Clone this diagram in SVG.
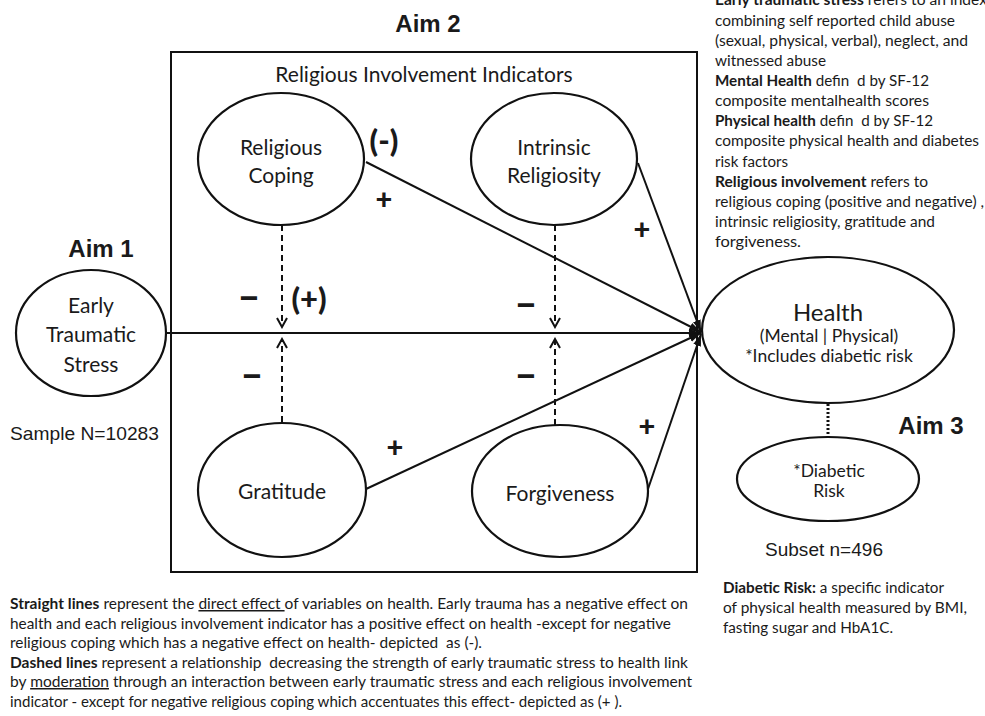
<svg xmlns="http://www.w3.org/2000/svg" width="985" height="716" viewBox="0 0 985 716">
<style>
text{white-space:pre;fill:#1a1a1a}
.c{font-family:Lato,"Open Sans",sans-serif}
.a{font-family:"Liberation Sans",Arial,sans-serif}
.aim{font-family:"Liberation Sans",Arial,sans-serif;font-weight:bold;font-size:24px;text-anchor:middle}
.node ellipse{fill:#fff;stroke:#111;stroke-width:2.2}
.lbl{font-family:Lato,"Open Sans",sans-serif;font-size:21px;text-anchor:middle}
.sm{font-size:17.5px}
.big{font-size:24px}
.sign{font-family:Lato,"Open Sans",sans-serif;font-weight:900;font-size:31px;text-anchor:middle}
.plus{font-size:29px}
.minus{font-size:36px}
.note{font-family:Lato,"Open Sans",sans-serif;font-size:14.5px}
.bn{font-family:Lato,"Open Sans",sans-serif;font-size:15px}
.solid{stroke:#111;stroke-width:2;fill:none}
.dash{stroke:#111;stroke-width:2;fill:none;stroke-dasharray:6 4}
</style>
<defs>
<marker id="arr" viewBox="0 0 12 10" refX="12" refY="5" markerWidth="12" markerHeight="10" markerUnits="userSpaceOnUse" orient="auto"><path d="M0,1 L12,5 L0,9 z" fill="#111"/></marker>
<marker id="chev" viewBox="0 0 12 12" refX="10" refY="6" markerWidth="12" markerHeight="12" markerUnits="userSpaceOnUse" orient="auto"><path d="M1,1 L10,6 L1,11" fill="none" stroke="#111" stroke-width="2"/></marker>
</defs>
<rect width="985" height="716" fill="#fff"/>

<g id="aims">
<text class="aim" x="428" y="32">Aim 2</text>
<text class="aim" x="101" y="257">Aim 1</text>
<text class="aim" x="931" y="434">Aim 3</text>
<text class="a" x="10" y="440" font-size="18.5" textLength="149" lengthAdjust="spacingAndGlyphs">Sample N=10283</text>
<text class="a" x="765" y="556" font-size="18.5" textLength="118" lengthAdjust="spacingAndGlyphs">Subset n=496</text>
</g>

<g id="box">
<rect x="171" y="52" width="526" height="520" fill="none" stroke="#111" stroke-width="2"/>
<text class="c" x="424" y="82" font-size="21" text-anchor="middle">Religious Involvement Indicators</text>
</g>

<g id="connectors">
<line class="solid" x1="166" y1="333" x2="701" y2="333" marker-end="url(#arr)"/>
<line class="solid" x1="366" y1="162" x2="701" y2="332" marker-end="url(#arr)"/>
<line class="solid" x1="638" y1="163" x2="701" y2="332" marker-end="url(#arr)"/>
<line class="solid" x1="366" y1="489" x2="701" y2="333" marker-end="url(#arr)"/>
<line class="solid" x1="648" y1="489" x2="701" y2="334" marker-end="url(#arr)"/>
<line class="dash" x1="282" y1="225" x2="282" y2="327" marker-end="url(#chev)"/>
<line class="dash" x1="282" y1="422" x2="282" y2="339" marker-end="url(#chev)"/>
<line class="dash" x1="555" y1="225" x2="555" y2="327" marker-end="url(#chev)"/>
<line class="dash" x1="555" y1="425" x2="555" y2="339" marker-end="url(#chev)"/>
<line x1="828" y1="404" x2="828" y2="437" stroke="#111" stroke-width="3" stroke-dasharray="2 2"/>
</g>

<g id="signs">
<text class="sign" x="384" y="152">(-)</text>
<text class="sign plus" x="384" y="209">+</text>
<text class="sign plus" x="642" y="239">+</text>
<text class="sign plus" x="395" y="457">+</text>
<text class="sign plus" x="647" y="436">+</text>
<text class="sign minus" x="249" y="310">−</text>
<text class="sign" x="309" y="310">(+)</text>
<text class="sign minus" x="526" y="317">−</text>
<text class="sign minus" x="252" y="388">−</text>
<text class="sign minus" x="526" y="388">−</text>
</g>

<g id="ets" class="node">
<ellipse cx="91" cy="333" rx="75" ry="63"/>
<text class="lbl" x="91" y="313">Early</text>
<text class="lbl" x="91" y="342">Traumatic</text>
<text class="lbl" x="91" y="372">Stress</text>
</g>
<g id="coping" class="node">
<ellipse cx="281" cy="159" rx="83" ry="66"/>
<text class="lbl" x="281" y="155">Religious</text>
<text class="lbl" x="281" y="183">Coping</text>
</g>
<g id="intrinsic" class="node">
<ellipse cx="554" cy="159" rx="83" ry="66"/>
<text class="lbl" x="554" y="155">Intrinsic</text>
<text class="lbl" x="554" y="183">Religiosity</text>
</g>
<g id="gratitude" class="node">
<ellipse cx="282" cy="490" rx="84" ry="67"/>
<text class="lbl" x="282" y="499">Gratitude</text>
</g>
<g id="forgiveness" class="node">
<ellipse cx="560" cy="491" rx="88" ry="66"/>
<text class="lbl" x="560" y="501">Forgiveness</text>
</g>
<g id="health" class="node">
<ellipse cx="828" cy="330" rx="126" ry="73"/>
<text class="lbl big" x="828" y="321">Health</text>
<text class="lbl sm" x="829" y="342">(Mental | Physical)</text>
<text class="lbl sm" x="829" y="362">*Includes diabetic risk</text>
</g>
<g id="diabetic" class="node">
<ellipse cx="828" cy="479" rx="91" ry="42"/>
<text class="lbl sm" x="829" y="477">*Diabetic</text>
<text class="lbl sm" x="829" y="497">Risk</text>
</g>

<g id="definitions" class="note">
<text x="715" y="5" textLength="272" lengthAdjust="spacingAndGlyphs"><tspan font-weight="bold">Early traumatic stress</tspan> refers to an index</text>
<text x="715" y="26" textLength="240" lengthAdjust="spacingAndGlyphs">combining self reported child abuse</text>
<text x="715" y="46" textLength="253" lengthAdjust="spacingAndGlyphs">(sexual, physical, verbal), neglect, and</text>
<text x="715" y="66" textLength="111" lengthAdjust="spacingAndGlyphs">witnessed abuse</text>
<text x="715" y="86" textLength="214" lengthAdjust="spacingAndGlyphs"><tspan font-weight="bold">Mental Health</tspan> defin  d by SF-12</text>
<text x="715" y="106" textLength="214" lengthAdjust="spacingAndGlyphs">composite mentalhealth scores</text>
<text x="715" y="126" textLength="218" lengthAdjust="spacingAndGlyphs"><tspan font-weight="bold">Physical health</tspan> defin  d by SF-12</text>
<text x="715" y="146" textLength="264" lengthAdjust="spacingAndGlyphs">composite physical health and diabetes</text>
<text x="715" y="167" textLength="73" lengthAdjust="spacingAndGlyphs">risk factors</text>
<text x="715" y="187" textLength="213" lengthAdjust="spacingAndGlyphs"><tspan font-weight="bold">Religious involvement</tspan> refers to</text>
<text x="715" y="207" textLength="269" lengthAdjust="spacingAndGlyphs">religious coping (positive and negative) ,</text>
<text x="715" y="227" textLength="220" lengthAdjust="spacingAndGlyphs">intrinsic religiosity, gratitude and</text>
<text x="715" y="247" textLength="86" lengthAdjust="spacingAndGlyphs">forgiveness.</text>
</g>

<g id="diabetic-note" class="note">
<text x="723" y="593" textLength="221" lengthAdjust="spacingAndGlyphs"><tspan font-weight="bold">Diabetic Risk:</tspan> a specific indicator</text>
<text x="723" y="613" textLength="244" lengthAdjust="spacingAndGlyphs">of physical health measured by BMI,</text>
<text x="723" y="633" textLength="170" lengthAdjust="spacingAndGlyphs">fasting sugar and HbA1C.</text>
</g>

<g id="legend" class="bn">
<text x="10" y="609" textLength="678" lengthAdjust="spacingAndGlyphs"><tspan font-weight="bold">Straight lines</tspan> represent the <tspan text-decoration="underline">direct effect </tspan>of variables on health. Early trauma has a negative effect on</text>
<text x="10" y="628.5" textLength="661" lengthAdjust="spacingAndGlyphs">health and each religious involvement indicator has a positive effect on health -except for negative</text>
<text x="10" y="648" textLength="472" lengthAdjust="spacingAndGlyphs">religious coping which has a negative effect on health- depicted  as (-).</text>
<text x="10" y="667.5" textLength="678" lengthAdjust="spacingAndGlyphs"><tspan font-weight="bold">Dashed lines</tspan> represent a relationship  decreasing the strength of early traumatic stress to health link</text>
<text x="10" y="687" textLength="682" lengthAdjust="spacingAndGlyphs">by <tspan text-decoration="underline">moderation</tspan> through an interaction between early traumatic stress and each religious involvement</text>
<text x="10" y="706.5" textLength="612" lengthAdjust="spacingAndGlyphs">indicator - except for negative religious coping which accentuates this effect- depicted as (+ ).</text>
</g>
</svg>
